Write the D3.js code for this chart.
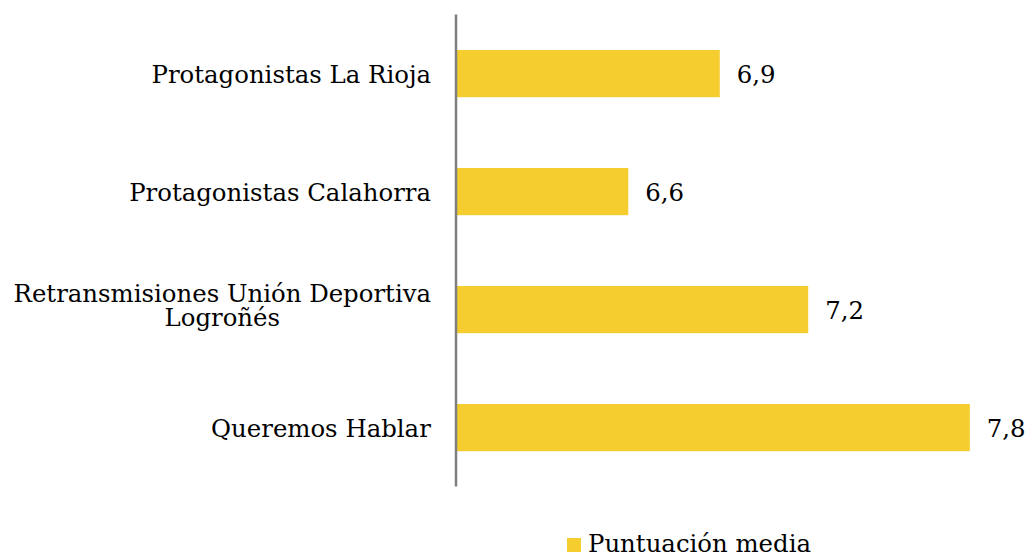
<!DOCTYPE html>
<html>
<head>
<meta charset="utf-8">
<script src="https://cdn.jsdelivr.net/npm/d3@7"></script>
<style>
  body { margin: 0; background: #fff; }
  text { font-family: "DejaVu Serif", serif; fill: #000; }
</style>
</head>
<body>
<div id="chart"></div>
<script>
    // Data
    const categories = [
        ["Protagonistas La Rioja"],
        ["Protagonistas Calahorra"],
        ["Retransmisiones Unión Deportiva", "Logroñés"],
        ["Queremos Hablar"]
    ];
    const values = [6.94, 6.64, 7.23, 7.76];
    const seriesName = "Puntuación media";

    const width = 1025, height = 557;
    const barColor = "#F5CD2E";
    const fontSize = "24.4px";

    const svg = d3.select("#chart")
        .append("svg")
        .attr("width", width)
        .attr("height", height);

    const xMin = 6.075;
    const x = d3.scaleLinear()
        .domain([xMin, 8])
        .range([456, 1043]);

    const y = d3.scaleBand()
        .domain(d3.range(categories.length))
        .range([14.6, 486.6])
        .paddingInner(0.6)
        .paddingOuter(0.3);

    // Bars
    svg.selectAll("rect.bar")
        .data(values)
        .enter()
        .append("rect")
        .attr("class", "bar")
        .attr("x", x(xMin))
        .attr("y", (d, i) => y(i))
        .attr("width", d => x(d) - x(xMin))
        .attr("height", y.bandwidth())
        .style("fill", barColor);

    // Axis line
    svg.append("line")
        .attr("x1", x(xMin)).attr("x2", x(xMin))
        .attr("y1", y.range()[0]).attr("y2", y.range()[1])
        .style("stroke", "#808080")
        .style("stroke-width", 2.5);

    // Value labels
    const fmt = d => d3.format(".1f")(d).replace(".", ",");
    svg.selectAll("text.val")
        .data(values)
        .enter()
        .append("text")
        .attr("class", "val")
        .attr("x", d => x(d) + 17)
        .attr("y", (d, i) => y(i) + y.bandwidth() / 2)
        .attr("dy", "0.37em")
        .style("font-size", fontSize)
        .text(fmt);

    // Category labels
    const labels = svg.selectAll("text.cat")
        .data(categories)
        .enter()
        .append("text")
        .attr("class", "cat")
        .attr("text-anchor", "middle")
        .style("font-size", fontSize)
        .attr("transform", (d, i) => {
            return "translate(0," + (y(i) + y.bandwidth() / 2) + ")";
        });

    labels.each(function(lines) {
        const t = d3.select(this);
        const lh = 24;
        const off = -(lines.length - 1) * 17;
        lines.forEach((l, j) => {
            t.append("tspan")
                .attr("x", 0)
                .attr("y", off + j * lh)
                .attr("dy", "0.37em")
                .text(l);
        });
        // right-align the block, centre lines within it
        const w = this.getBBox().width;
        t.selectAll("tspan").attr("x", 431 - w / 2);
    });

    // Legend
    const legend = svg.append("g").attr("transform", "translate(567,538)");
    legend.append("rect")
        .attr("width", 14).attr("height", 14)
        .style("fill", barColor);
    legend.append("text")
        .attr("x", 21).attr("y", 14)
        .style("font-size", fontSize)
        .text(seriesName);
</script>
</body>
</html>
